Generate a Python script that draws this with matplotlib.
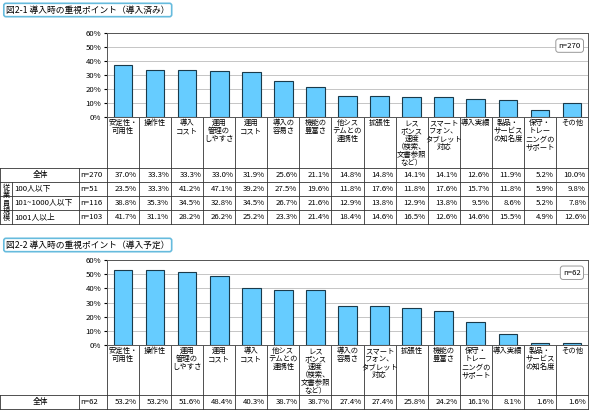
import matplotlib.pyplot as plt
import numpy as np

plt.rcParams['font.family'] = ['Noto Sans CJK JP', 'DejaVu Sans']

cats1 = ["安定性・\n可用性", "操作性", "導入\nコスト", "運用\n管理の\nしやすさ", "運用\nコスト",
         "導入の\n容易さ", "機能の\n豊富さ", "他シス\nテムとの\n連携性", "拡張性",
         "レス\nポンス\n速度\n（検索、\n文書参照\nなど）", "スマート\nフォン、\nタブレット\n対応",
         "導入実績", "製品・\nサービス\nの知名度", "保守・\nトレー\nニングの\nサポート", "その他"]
all1 = [37.0, 33.3, 33.3, 33.0, 31.9, 25.6, 21.1, 14.8, 14.8, 14.1, 14.1, 12.6, 11.9, 5.2, 10.0]
s100 = [23.5, 33.3, 41.2, 47.1, 39.2, 27.5, 19.6, 11.8, 17.6, 11.8, 17.6, 15.7, 11.8, 5.9, 9.8]
s1000 = [38.8, 35.3, 34.5, 32.8, 34.5, 26.7, 21.6, 12.9, 13.8, 12.9, 13.8, 9.5, 8.6, 5.2, 7.8]
s1001 = [41.7, 31.1, 28.2, 26.2, 25.2, 23.3, 21.4, 18.4, 14.6, 16.5, 12.6, 14.6, 15.5, 4.9, 12.6]
rows1 = [("全体", "n=270", all1), ("100人以下", "n=51", s100),
         ("101~1000人以下", "n=116", s1000), ("1001人以上", "n=103", s1001)]

cats2 = ["安定性・\n可用性", "操作性", "運用\n管理の\nしやすさ", "運用\nコスト", "導入\nコスト",
         "他シス\nテムとの\n連携性", "レス\nポンス\n速度\n（検索、\n文書参照\nなど）", "導入の\n容易さ",
         "スマート\nフォン、\nタブレット\n対応", "拡張性", "機能の\n豊富さ", "保守・\nトレー\nニングの\nサポート",
         "導入実績", "製品・\nサービス\nの知名度", "その他"]
all2 = [53.2, 53.2, 51.6, 48.4, 40.3, 38.7, 38.7, 27.4, 27.4, 25.8, 24.2, 16.1, 8.1, 1.6, 1.6]

W, H = 590, 417
fig = plt.figure(figsize=(W / 100, H / 100), dpi=100)
ov = fig.add_axes([0, 0, 1, 1])
ov.set_xlim(0, W)
ov.set_ylim(H, 0)
ov.axis('off')

X0, X1 = 107, 588
CW = (X1 - X0) / 15
FS = 5.6


def panel(title, ytitle, ytop, ybot, ylab_end, cats, vals, ntext, rows, rowh):
    # title box
    ov.text(6, ytitle, title, fontsize=6.3, va='center', ha='left',
            bbox=dict(boxstyle='round,pad=0.25', fc='white', ec='#66bbdd', lw=1.2))
    ax = fig.add_axes([X0 / W, 1 - ybot / H, (X1 - X0) / W, (ybot - ytop) / H])
    x = np.arange(len(vals))
    ax.bar(x, vals, width=0.58, color='#66ccff', edgecolor='#1a3a4a', lw=0.8, zorder=3)
    ax.set_xlim(-0.5, len(vals) - 0.5)
    ax.set_ylim(0, 60)
    ax.set_yticks(range(0, 61, 10))
    ax.set_yticklabels([f"{v}%" for v in range(0, 61, 10)], fontsize=FS)
    ax.set_xticks([])
    ax.yaxis.grid(True, color='#bbbbbb', lw=0.6, zorder=0)
    ax.tick_params(axis='y', length=2, pad=2)
    for s in ax.spines.values():
        s.set_color('#555555')
        s.set_lw(0.7)
    ax.text(0.985, 0.85, ntext, transform=ax.transAxes, fontsize=FS, ha='right', va='center',
            bbox=dict(boxstyle='round,pad=0.35', fc='white', ec='#999999', lw=0.7))
    # category labels
    for i, c in enumerate(cats):
        ov.text(X0 + CW * (i + 0.5), ybot + 2, c, fontsize=FS - 0.3, ha='center', va='top',
                linespacing=1.0)
    # table
    ytab = ylab_end
    yend = ytab + rowh * len(rows)
    ov.plot([0, X1], [ytab, ytab], color='#333333', lw=0.6)
    for r, (name, n, v) in enumerate(rows):
        yc = ytab + rowh * (r + 0.5)
        if r == 0:
            ov.text(40, yc, name, fontsize=FS, ha='center', va='center')
        else:
            ov.text(14, yc, name, fontsize=FS, ha='left', va='center')
        ov.text(80, yc, n, fontsize=FS, ha='left', va='center')
        for i, val in enumerate(v):
            ov.text(X0 + CW * (i + 1) - 2, yc, f"{val:.1f}%", fontsize=FS, ha='right', va='center')
        ov.plot([0, X1], [ytab + rowh * (r + 1)] * 2, color='#333333', lw=0.6)
    ov.plot([0, 0], [ytab, yend], color='#333333', lw=0.6)
    ov.plot([79, 79], [ytab, yend], color='#333333', lw=0.6)
    for i in range(16):
        xx = X0 + CW * i
        ov.plot([xx, xx], [ybot, yend], color='#333333', lw=0.6)
    if len(rows) > 1:
        ov.plot([12, 12], [ytab + rowh, yend], color='#333333', lw=0.6)
        ov.text(6, ytab + rowh * 2.5, "従\n業\n員\n規\n模", fontsize=FS - 0.5, ha='center',
                va='center', linespacing=0.95)


panel("図2-1 導入時の重視ポイント（導入済み）", 10, 33, 117, 168, cats1, all1, "n=270", rows1, 14)
panel("図2-2 導入時の重視ポイント（導入予定）", 245, 260, 345, 395, cats2, all2, "n=62",
      [("全体", "n=62", all2)], 14)

fig.savefig("out.png", dpi=100)
